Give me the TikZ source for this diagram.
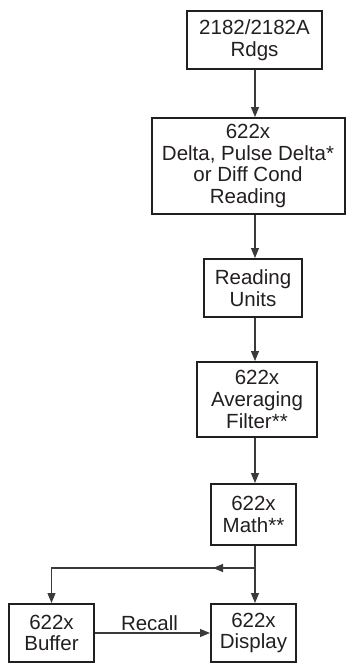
\documentclass[tikz,border=0pt]{standalone}
\usepackage{fontspec}
\setmainfont{Liberation Sans}
\usetikzlibrary{arrows.meta}
\definecolor{ink}{HTML}{231F20}
\definecolor{wirec}{HTML}{3A3A3A}
\begin{document}
\begin{tikzpicture}[x=1pt,y=-1pt,
  blk/.style={draw=ink,line width=2pt,inner sep=0pt,align=center,
    font=\fontsize{20.5}{21.7}\selectfont,text=ink},
  arr/.style={draw=wirec,line width=1.1pt,-{Triangle[length=10pt,width=8pt]}},
  lbl/.style={font=\fontsize{20.5}{21.7}\selectfont,text=ink,inner sep=2pt}]
\useasboundingbox (0,0) rectangle (347,665);
\node[blk,minimum width=135pt,minimum height=58pt] (b1) at (254.5,40) {2182/2182A\\Rdgs};
\node[blk,minimum width=193pt,minimum height=96pt] (b2) at (248,166) {622x\\Delta, Pulse Delta*\\or Diff Cond\\Reading};
\node[blk,minimum width=98pt,minimum height=58pt] (b3) at (253,288) {Reading\\Units};
\node[blk,minimum width=120pt,minimum height=75pt] (b4) at (257,399.5) {622x\\Averaging\\Filter**};
\node[blk,minimum width=85pt,minimum height=61pt] (b5) at (253.5,514.5) {622x\\Math**};
\node[blk,minimum width=85pt,minimum height=58pt] (disp) at (253.5,633) {622x\\Display};
\node[blk,minimum width=85pt,minimum height=58pt] (buf) at (51.5,633) {622x\\Buffer};
\coordinate (sp) at (255,0);
\coordinate (split) at (255,568);
\coordinate (mid) at (213,568);
\draw[arr] (b1.south -| sp) -- (b2.north -| sp);
\draw[arr] (b2.south -| sp) -- (b3.north -| sp);
\draw[arr] (b3.south -| sp) -- (b4.north -| sp);
\draw[arr] (b4.south -| sp) -- (b5.north -| sp);
\draw[arr] (b5.south -| sp) -- (disp.north -| sp);
\draw[arr] (split) -| (buf.north);
\draw[arr] (split) -- (mid);
\draw[arr] (buf.east) -- node[lbl,above,xshift=-3pt] (rc) {Recall} (disp.west);
\end{tikzpicture}
\end{document}
